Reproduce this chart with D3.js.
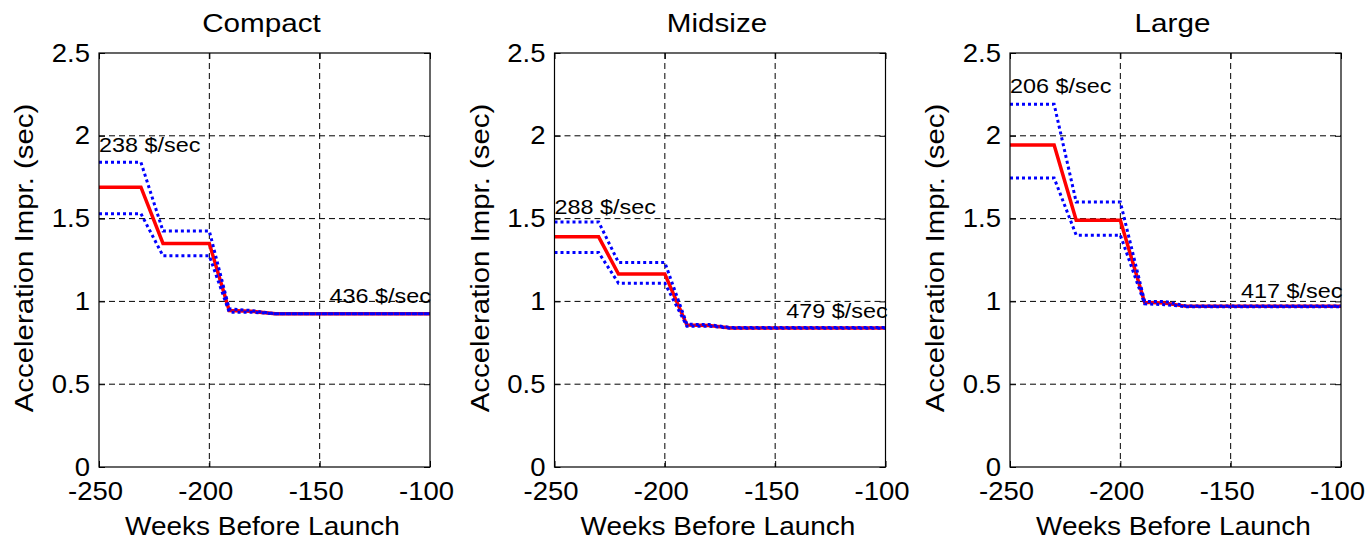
<!DOCTYPE html>
<html>
<head>
<meta charset="utf-8">
<script src="https://cdn.jsdelivr.net/npm/d3@7"></script>
<style>
  html, body { margin: 0; padding: 0; background: #fff; }
  svg { display: block; font-family: "Liberation Sans", Arial, sans-serif; }
</style>
</head>
<body>
<svg id="chart" width="1369" height="540"></svg>
<script>
// ---------- data ----------
const panelTitles = ["Compact", "Midsize", "Large"];
const xTicks = [-250, -200, -150, -100];
const xTickLabels = ["-250", "-200", "-150", "-100"];
const yTicks = [0, 0.5, 1, 1.5, 2, 2.5];
const yTickLabels = ["0", "0.5", "1", "1.5", "2", "2.5"];

const compactWeeks = [-250, -231, -221, -200, -191, -181, -170, -100];
const compactMean  = [1.69, 1.69, 1.35, 1.35, 0.945, 0.94, 0.925, 0.925];
const compactUpper = [1.84, 1.84, 1.425, 1.425, 0.955, 0.945, 0.925, 0.925];
const compactLower = [1.53, 1.53, 1.275, 1.275, 0.935, 0.935, 0.925, 0.925];

const midsizeWeeks = [-250, -230, -221, -200, -190, -180, -170, -100];
const midsizeMean  = [1.39, 1.39, 1.165, 1.165, 0.857, 0.855, 0.84, 0.84];
const midsizeUpper = [1.48, 1.48, 1.235, 1.235, 0.862, 0.86, 0.842, 0.842];
const midsizeLower = [1.295, 1.295, 1.11, 1.11, 0.85, 0.85, 0.838, 0.838];

const largeWeeks = [-250, -230, -220, -200, -189, -180, -170, -100];
const largeMean  = [1.945, 1.945, 1.49, 1.49, 0.994, 0.99, 0.97, 0.97];
const largeUpper = [2.19, 2.19, 1.60, 1.60, 1.0, 1.0, 0.972, 0.972];
const largeLower = [1.745, 1.745, 1.40, 1.40, 0.985, 0.98, 0.968, 0.968];

const leftLabels  = ["238 $/sec", "288 $/sec", "206 $/sec"];
const leftLabelX  = [-250, -250, -250];
const leftLabelY  = [1.90, 1.53, 2.26];
const rightLabels = ["436 $/sec", "479 $/sec", "417 $/sec"];
const rightLabelX = [-145.5, -145, -145.3];
const rightLabelY = [0.99, 0.90, 1.02];

const seriesWeeks = [compactWeeks, midsizeWeeks, largeWeeks];
const seriesMean  = [compactMean, midsizeMean, largeMean];
const seriesUpper = [compactUpper, midsizeUpper, largeUpper];
const seriesLower = [compactLower, midsizeLower, largeLower];

// ---------- layout ----------
const svg = d3.select("#chart");
const panelLeft = [99, 554.5, 1010];
const panelW = 331;
const plotTop = 53, plotBottom = 467;
const FF = "Liberation Sans, Arial, sans-serif";

// horizontally widen a text about its anchor point
function stretch(sel, s) {
  sel.each(function () {
    const t = d3.select(this);
    const x = +t.attr("x") || 0, y = +t.attr("y") || 0;
    t.attr("transform", `translate(${x},${y}) scale(${s},1) translate(${-x},${-y})`);
  });
}

panelTitles.forEach((title, i) => {
  const h = plotBottom - plotTop;
  const x = d3.scaleLinear().domain([-250, -100]).range([0, panelW]);
  const y = d3.scaleLinear().domain([0, 2.5]).range([h, 0]);
  const g = svg.append("g").attr("transform", `translate(${panelLeft[i]},${plotTop})`);

  // grid
  const grid = g.append("g").attr("stroke", "#000").attr("stroke-width", 1)
    .attr("stroke-dasharray", "6,4").attr("fill", "none");
  xTicks.slice(1, -1).forEach(t => {
    grid.append("line").attr("x1", x(t)).attr("x2", x(t)).attr("y1", 0).attr("y2", h);
  });
  yTicks.slice(1, -1).forEach(t => {
    grid.append("line").attr("x1", 0).attr("x2", panelW).attr("y1", y(t)).attr("y2", y(t));
  });

  // lines
  const weeks = seriesWeeks[i];
  const line = d3.line().x(d => x(d[0])).y(d => y(d[1]));
  const mk = vals => weeks.map((w, k) => [w, vals[k]]);

  g.append("path").datum(mk(seriesMean[i]))
    .attr("d", line).attr("fill", "none").attr("stroke", "#ff0000").attr("stroke-width", 3.5);
  [seriesUpper[i], seriesLower[i]].forEach(vals => {
    g.append("path").datum(mk(vals))
      .attr("d", line).attr("fill", "none").attr("stroke", "#0000ff")
      .attr("stroke-width", 3).attr("stroke-dasharray", "3,3");
  });

  // annotations
  stretch(g.append("text").attr("x", x(leftLabelX[i])).attr("y", y(leftLabelY[i]))
    .attr("font-size", 20).attr("fill", "#000").text(leftLabels[i]), 1.17);
  stretch(g.append("text").attr("x", x(rightLabelX[i])).attr("y", y(rightLabelY[i]))
    .attr("font-size", 20).attr("fill", "#000").text(rightLabels[i]), 1.17);

  // axes with inward ticks
  const ax = g.append("g").attr("transform", `translate(0,${h})`)
    .call(d3.axisBottom(x).tickValues(xTicks).tickFormat((d, k) => xTickLabels[k])
      .tickSizeInner(-6).tickSizeOuter(0).tickPadding(15));
  ax.select(".domain").remove();
  ax.selectAll("text").attr("font-size", 25).attr("font-family", FF).attr("fill", "#000")
    .attr("x", -4);
  stretch(ax.selectAll("text"), 1.1);
  ax.selectAll("line").attr("stroke", "#000");

  const ay = g.append("g")
    .call(d3.axisLeft(y).tickValues(yTicks).tickFormat((d, k) => yTickLabels[k])
      .tickSizeInner(-6).tickSizeOuter(0).tickPadding(9));
  ay.select(".domain").remove();
  ay.selectAll("text").attr("font-size", 25).attr("font-family", FF).attr("fill", "#000");
  stretch(ay.selectAll("text"), 1.1);
  ay.selectAll("line").attr("stroke", "#000");

  // mirrored ticks top/right
  const at = g.append("g").call(d3.axisTop(x).tickValues(xTicks).tickFormat("").tickSizeInner(-6).tickSizeOuter(0));
  at.select(".domain").remove();
  at.selectAll("line").attr("stroke", "#000");
  const ar = g.append("g").attr("transform", `translate(${panelW},0)`)
    .call(d3.axisRight(y).tickValues(yTicks).tickFormat("").tickSizeInner(-6).tickSizeOuter(0));
  ar.select(".domain").remove();
  ar.selectAll("line").attr("stroke", "#000");

  // box
  g.append("rect").attr("x", 0).attr("y", 0).attr("width", panelW).attr("height", h)
    .attr("fill", "none").attr("stroke", "#000").attr("stroke-width", 1.2);

  // titles and labels
  stretch(g.append("text").attr("x", panelW / 2 - 3).attr("y", 32 - plotTop)
    .attr("text-anchor", "middle").attr("font-size", 26).attr("fill", "#000").text(title), 1.14);
  stretch(g.append("text").attr("x", panelW / 2 - 2).attr("y", 535 - plotTop)
    .attr("text-anchor", "middle").attr("font-size", 25).attr("fill", "#000").text("Weeks Before Launch"), 1.12);
  g.append("text").attr("transform", `translate(-66,${h / 2 - 2}) rotate(-90) scale(1.13,1)`)
    .attr("text-anchor", "middle").attr("font-size", 26).attr("fill", "#000").text("Acceleration Impr. (sec)");
});
</script>
</body>
</html>
